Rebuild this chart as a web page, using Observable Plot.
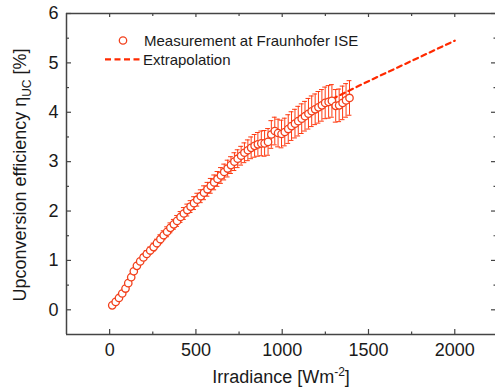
<!DOCTYPE html>
<html><head><meta charset="utf-8">
<script src="https://cdn.jsdelivr.net/npm/d3@7"></script>
<script src="https://cdn.jsdelivr.net/npm/@observablehq/plot@0.6"></script>
<style>body{margin:0;background:#fff} svg{display:block}</style>
</head><body><div id="chart"></div>
<script>
// Measured upconversion efficiency (Fraunhofer ISE)
const irradiance = [15,35,54,73,92,108,125,140,158,177,196,215,235,255,274,294,313,333,352,372,391,411,430,450,469,489,508,528,547,567,586,606,625,645,664,684,703,723,742,762,781,801,820,840,859,879,898,918,937,957,976,996,1015,1035,1054,1074,1093,1113,1132,1152,1171,1191,1210,1230,1249,1269,1288,1310,1330,1350,1370,1390];
const efficiency = [0.09,0.16,0.24,0.33,0.43,0.54,0.66,0.78,0.89,0.98,1.06,1.13,1.20,1.27,1.35,1.43,1.51,1.58,1.66,1.73,1.80,1.88,1.95,2.02,2.09,2.16,2.23,2.30,2.37,2.44,2.51,2.58,2.65,2.72,2.79,2.86,2.93,3.00,3.06,3.12,3.18,3.23,3.28,3.32,3.35,3.37,3.37,3.40,3.55,3.62,3.58,3.56,3.60,3.66,3.72,3.77,3.82,3.87,3.92,3.97,4.02,4.06,4.10,4.14,4.19,4.21,4.23,4.13,4.14,4.19,4.24,4.29];
const errorBar = [0.02,0.02,0.02,0.03,0.03,0.03,0.04,0.04,0.05,0.05,0.06,0.07,0.07,0.08,0.08,0.09,0.09,0.10,0.10,0.10,0.11,0.11,0.12,0.12,0.12,0.13,0.13,0.13,0.14,0.14,0.15,0.15,0.15,0.16,0.16,0.17,0.17,0.18,0.18,0.19,0.20,0.21,0.22,0.23,0.24,0.25,0.26,0.27,0.28,0.28,0.28,0.28,0.28,0.29,0.29,0.29,0.30,0.30,0.30,0.31,0.31,0.31,0.32,0.32,0.32,0.33,0.33,0.33,0.33,0.34,0.34,0.35];
// Extrapolation
const extraX = [1290,1500,1750,2000];
const extraY = [4.27,4.63,5.04,5.45];
// Ticks
const xMajor = [0,500,1000,1500,2000];
const xMinor = [250,750,1250,1750];
const yMajor = [0,1,2,3,4,5,6];
const yMinor = [0.5,1.5,2.5,3.5,4.5,5.5];
const legendLabels = ["Measurement at Fraunhofer ISE","Extrapolation"];

const data = irradiance.map((x,i)=>({x, y: efficiency[i], e: errorBar[i]}));
const extra = extraX.map((x,i)=>({x, y: extraY[i]}));

const W = 495, H = 390, mL = 66, mR = 0, mT = 13, mB = 56;
const innerW = W - mL - mR, innerH = H - mT - mB;
const frameC = "#444";
const red = "#f2401c", barC = "#ff3a10", dashC = "#ff2a00";

const plot = Plot.plot({
  width: W, height: H, marginLeft: mL, marginRight: mR, marginTop: mT, marginBottom: mB,
  x: {domain: [-250, 2236]},
  y: {domain: [-0.5, 6]},
  style: {fontFamily: "'Liberation Sans', Arial, sans-serif", fontSize: "18px", color: "#1a1a1a", background: "#fff"},
  marks: [
    Plot.axisX({ticks: xMajor, tickSize: 0, tickPadding: 9, tickFormat: d => String(d), label: null, fontSize: 18}),
    Plot.axisY({ticks: yMajor, tickSize: 0, tickPadding: 8, tickFormat: d => String(d), label: null, fontSize: 18}),
    // inward ticks
    Plot.tickX(xMajor, {x: d => d, insetTop: innerH - 5, stroke: frameC, strokeWidth: 1.2}),
    Plot.tickX(xMinor, {x: d => d, insetTop: innerH - 2.5, stroke: frameC, strokeWidth: 1.2}),
    Plot.tickX(xMajor, {x: d => d, insetBottom: innerH - 4, stroke: frameC, strokeWidth: 1.2}),
    Plot.tickX(xMinor, {x: d => d, insetBottom: innerH - 3, stroke: frameC, strokeWidth: 1.2}),
    Plot.tickY(yMajor, {y: d => d, insetRight: innerW - 5, stroke: frameC, strokeWidth: 1.2}),
    Plot.tickY(yMinor, {y: d => d, insetRight: innerW - 3, stroke: frameC, strokeWidth: 1.2}),
    Plot.tickY(yMajor, {y: d => d, insetLeft: innerW - 4, stroke: frameC, strokeWidth: 1.2}),
    Plot.tickY(yMinor, {y: d => d, insetLeft: innerW - 1.5, stroke: frameC, strokeWidth: 1.2}),
    // frame
    Plot.ruleX([-250], {stroke: frameC, strokeWidth: 1.5}),
    Plot.ruleY([-0.5], {stroke: frameC, strokeWidth: 1.5}),
    Plot.ruleY([6], {stroke: frameC, strokeWidth: 1.5}),
    // error bars
    Plot.ruleX(data, {x: "x", y1: d => d.y - d.e, y2: d => d.y + d.e, stroke: barC, strokeWidth: 1}),
    Plot.ruleY(data, {y: d => d.y + d.e, x1: d => d.x - 14, x2: d => d.x + 14, stroke: barC, strokeWidth: 1}),
    Plot.ruleY(data, {y: d => d.y - d.e, x1: d => d.x - 14, x2: d => d.x + 14, stroke: barC, strokeWidth: 1}),
    // extrapolation
    Plot.line(extra, {x: "x", y: "y", stroke: dashC, strokeWidth: 2.2, strokeDasharray: "5,4"}),
    // measurement
    Plot.dot(data, {x: "x", y: "y", r: 3.7, stroke: red, strokeWidth: 1.3, fill: "white"})
  ]
});
document.getElementById("chart").appendChild(plot);

const svg = d3.select(plot);
const font = "'Liberation Sans', Arial, sans-serif";
// x-axis title
const xt = svg.append("text").attr("x", 281).attr("y", 383).attr("text-anchor", "middle")
  .attr("font-family", font).attr("font-size", 18).attr("fill", "#1a1a1a");
xt.append("tspan").text("Irradiance [Wm");
xt.append("tspan").attr("dy", -7).attr("font-size", 12).text("-2");
xt.append("tspan").attr("dy", 7).text("]");
// y-axis title
const yt = svg.append("text").attr("transform", "translate(26,175) rotate(-90)").attr("text-anchor", "middle")
  .attr("font-family", font).attr("font-size", 18).attr("fill", "#1a1a1a");
yt.append("tspan").text("Upconversion efficiency η");
yt.append("tspan").attr("dy", 5).attr("font-size", 12).text("UC");
yt.append("tspan").attr("dy", -5).text(" [%]");
// legend
const lg = svg.append("g").attr("font-family", font).attr("font-size", 15).attr("fill", "#1a1a1a").attr("text-anchor", "start");
lg.append("circle").attr("cx", 123).attr("cy", 40.5).attr("r", 3.7).attr("fill", "white").attr("stroke", red).attr("stroke-width", 1.3);
lg.append("text").attr("x", 144).attr("y", 45.5).attr("text-anchor", "start").text(legendLabels[0]);
lg.append("line").attr("x1", 105).attr("x2", 140).attr("y1", 59.3).attr("y2", 59.3)
  .attr("stroke", dashC).attr("stroke-width", 2.2).attr("stroke-dasharray", "6,3.5");
lg.append("text").attr("x", 143).attr("y", 64.5).attr("text-anchor", "start").text(legendLabels[1]);
</script>
</body></html>
